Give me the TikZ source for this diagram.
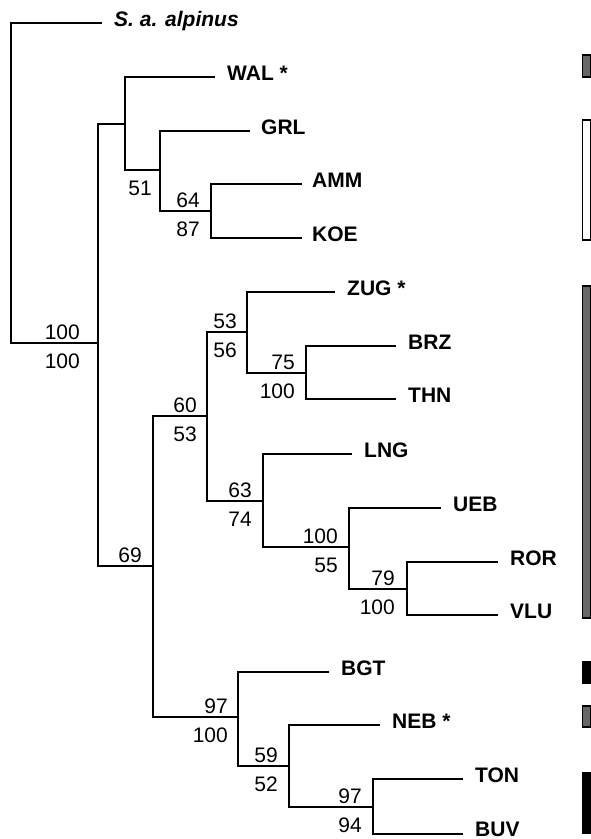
\documentclass[tikz,border=0pt]{standalone}
\usepackage{fontspec}
\setmainfont{Liberation Sans}
\usepackage{tikz}

\begin{document}
\begin{tikzpicture}[
    x=1pt, y=-1pt,
    branch/.style={line width=2.6pt, line join=miter},
    tip/.style={anchor=base west, inner sep=0pt, font=\fontsize{21}{25}\selectfont\bfseries},
    sup/.style={anchor=base east, inner sep=0pt, font=\fontsize{21}{25}\selectfont},
    bar/.style={draw=black, line width=1.3pt},
    bargray/.style={bar, fill=black!60},
    barwhite/.style={bar, fill=white},
    barblack/.style={bar, fill=black}
]
    \useasboundingbox (0,0) rectangle (591,839);

    % branch ends
    \coordinate (t-alp) at (102,23);
    \coordinate (t-wal) at (215,77);
    \coordinate (t-grl) at (250,131);
    \coordinate (t-amm) at (302,184);
    \coordinate (t-koe) at (302,238);
    \coordinate (t-zug) at (335,292);
    \coordinate (t-brz) at (396,346);
    \coordinate (t-thn) at (396,399);
    \coordinate (t-lng) at (352,454);
    \coordinate (t-ueb) at (441,508);
    \coordinate (t-ror) at (498,562);
    \coordinate (t-vlu) at (498,615);
    \coordinate (t-bgt) at (329,672);
    \coordinate (t-neb) at (380,725);
    \coordinate (t-ton) at (463,779);
    \coordinate (t-buv) at (463,834);

    % internal nodes
    \coordinate (root) at (11,343);
    \coordinate (n1) at (98,343);
    \coordinate (n2) at (125,124);
    \coordinate (n3) at (160,170);
    \coordinate (n4) at (211,211);
    \coordinate (n5) at (153,566);
    \coordinate (n6) at (207,416);
    \coordinate (n7) at (247,332);
    \coordinate (n8) at (306,373);
    \coordinate (n9) at (263,501);
    \coordinate (n10) at (349,547);
    \coordinate (n11) at (407,589);
    \coordinate (n12) at (238,717);
    \coordinate (n13) at (289,766);
    \coordinate (n14) at (373,807);

    % branches
    \draw[branch] (t-alp) -| (root) |- (n1);
    \draw[branch] (n2) -| (n1) |- (n5);
    \draw[branch] (t-wal) -| (n2) |- (n3);
    \draw[branch] (t-grl) -| (n3) |- (n4);
    \draw[branch] (t-amm) -| (n4) |- (t-koe);
    \draw[branch] (n6) -| (n5) |- (n12);
    \draw[branch] (n7) -| (n6) |- (n9);
    \draw[branch] (t-zug) -| (n7) |- (n8);
    \draw[branch] (t-brz) -| (n8) |- (t-thn);
    \draw[branch] (t-lng) -| (n9) |- (n10);
    \draw[branch] (t-ueb) -| (n10) |- (n11);
    \draw[branch] (t-ror) -| (n11) |- (t-vlu);
    \draw[branch] (t-bgt) -| (n12) |- (n13);
    \draw[branch] (t-neb) -| (n13) |- (n14);
    \draw[branch] (t-ton) -| (n14) |- (t-buv);

    % taxa
    \node[tip] (alp) at ([shift={(12,3)}]t-alp) {\itshape S. a. alpinus};
    \node[tip] (wal) at ([shift={(12,3)}]t-wal) {WAL *};
    \node[tip] (grl) at ([shift={(11,3)}]t-grl) {GRL};
    \node[tip] (amm) at ([shift={(10,3)}]t-amm) {AMM};
    \node[tip] (koe) at ([shift={(10,3)}]t-koe) {KOE};
    \node[tip] (zug) at ([shift={(12,3)}]t-zug) {ZUG *};
    \node[tip] (brz) at ([shift={(12,3)}]t-brz) {BRZ};
    \node[tip] (thn) at ([shift={(12,3)}]t-thn) {THN};
    \node[tip] (lng) at ([shift={(12,3)}]t-lng) {LNG};
    \node[tip] (ueb) at ([shift={(12,3)}]t-ueb) {UEB};
    \node[tip] (ror) at ([shift={(12,3)}]t-ror) {ROR};
    \node[tip] (vlu) at ([shift={(12,3)}]t-vlu) {VLU};
    \node[tip] (bgt) at ([shift={(12,3)}]t-bgt) {BGT};
    \node[tip] (neb) at ([shift={(12,3)}]t-neb) {NEB *};
    \node[tip] (ton) at ([shift={(12,3)}]t-ton) {TON};
    \node[tip] (buv) at ([shift={(12,2)}]t-buv) {BUV};

    % support values
    \node[sup] (s1a) at ([shift={(-18,-3.5)}]n1) {100};
    \node[sup] (s1b) at ([shift={(-18,25)}]n1) {100};
    \node[sup] (s3b) at ([shift={(-8,25)}]n3) {51};
    \node[sup] (s4a) at ([shift={(-11,-3.5)}]n4) {64};
    \node[sup] (s4b) at ([shift={(-11,25)}]n4) {87};
    \node[sup] (s5a) at ([shift={(-11,-3.5)}]n5) {69};
    \node[sup] (s6a) at ([shift={(-10,-3.5)}]n6) {60};
    \node[sup] (s6b) at ([shift={(-10,25)}]n6) {53};
    \node[sup] (s7a) at ([shift={(-10,-3.5)}]n7) {53};
    \node[sup] (s7b) at ([shift={(-10,25)}]n7) {56};
    \node[sup] (s8a) at ([shift={(-11,-3.5)}]n8) {75};
    \node[sup] (s8b) at ([shift={(-11,25)}]n8) {100};
    \node[sup] (s9a) at ([shift={(-11,-3.5)}]n9) {63};
    \node[sup] (s9b) at ([shift={(-11,25)}]n9) {74};
    \node[sup] (s10a) at ([shift={(-11,-3.5)}]n10) {100};
    \node[sup] (s10b) at ([shift={(-11,25)}]n10) {55};
    \node[sup] (s11a) at ([shift={(-12,-3.5)}]n11) {79};
    \node[sup] (s11b) at ([shift={(-12,25)}]n11) {100};
    \node[sup] (s12a) at ([shift={(-10,-3.5)}]n12) {97};
    \node[sup] (s12b) at ([shift={(-10,25)}]n12) {100};
    \node[sup] (s13a) at ([shift={(-11,-3.5)}]n13) {59};
    \node[sup] (s13b) at ([shift={(-11,25)}]n13) {52};
    \node[sup] (s14a) at ([shift={(-11,-3.5)}]n14) {97};
    \node[sup] (s14b) at ([shift={(-11,25)}]n14) {94};

    % group bars
    \draw[bargray] (582.6,55) rectangle (591,77);
    \draw[barwhite] (582.6,120) rectangle (591,240);
    \draw[bargray] (582.6,286) rectangle (591,618);
    \draw[barblack] (582.6,662) rectangle (591,683);
    \draw[bargray] (582.6,706) rectangle (591,727);
    \draw[barblack] (582.6,773) rectangle (591,833);
\end{tikzpicture}
\end{document}
